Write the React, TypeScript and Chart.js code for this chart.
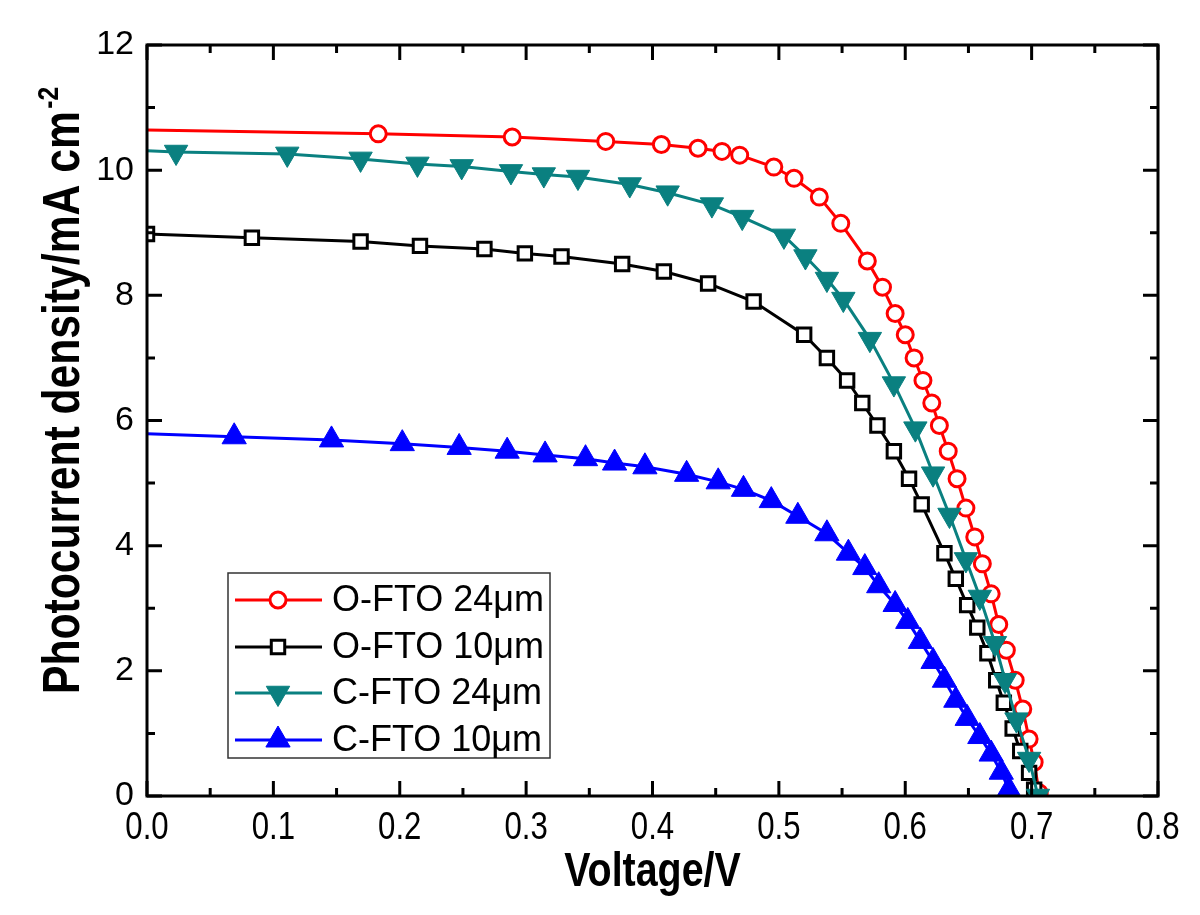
import React, { useEffect, useRef } from 'react';
import { Chart, registerables } from 'chart.js';
import { drawPoint } from 'chart.js/helpers';

Chart.register(...registerables);

// ---- data (voltage V, photocurrent density mA cm^-2) ----
const RED_V = [0, 0.183, 0.289, 0.363, 0.407, 0.436, 0.455, 0.469, 0.496, 0.512, 0.532, 0.549, 0.570, 0.582, 0.592, 0.600, 0.607, 0.614, 0.621, 0.627, 0.634, 0.641, 0.648, 0.655, 0.661, 0.668, 0.674, 0.680, 0.687, 0.693, 0.698, 0.702, 0.706];
const RED_J = [10.64, 10.58, 10.53, 10.46, 10.41, 10.35, 10.30, 10.24, 10.05, 9.87, 9.57, 9.15, 8.55, 8.13, 7.71, 7.37, 7.00, 6.64, 6.28, 5.92, 5.51, 5.07, 4.60, 4.14, 3.71, 3.23, 2.74, 2.33, 1.85, 1.39, 0.91, 0.54, 0.05];

const BLACK_V = [0, 0.083, 0.169, 0.216, 0.267, 0.299, 0.328, 0.376, 0.409, 0.444, 0.480, 0.520, 0.538, 0.554, 0.566, 0.578, 0.591, 0.603, 0.613, 0.631, 0.640, 0.649, 0.657, 0.665, 0.672, 0.678, 0.685, 0.691, 0.698, 0.702];
const BLACK_J = [8.98, 8.92, 8.86, 8.79, 8.74, 8.67, 8.62, 8.50, 8.38, 8.19, 7.90, 7.37, 7.00, 6.64, 6.28, 5.92, 5.51, 5.07, 4.66, 3.88, 3.47, 3.05, 2.69, 2.28, 1.85, 1.49, 1.08, 0.72, 0.37, 0.10];

const TEAL_V = [0, 0.023, 0.111, 0.169, 0.214, 0.249, 0.288, 0.314, 0.341, 0.382, 0.412, 0.447, 0.471, 0.504, 0.521, 0.538, 0.551, 0.572, 0.591, 0.608, 0.622, 0.635, 0.648, 0.659, 0.671, 0.679, 0.688, 0.698, 0.705];
const TEAL_J = [10.31, 10.29, 10.26, 10.18, 10.10, 10.06, 9.98, 9.93, 9.89, 9.77, 9.64, 9.45, 9.25, 8.95, 8.62, 8.26, 7.94, 7.30, 6.59, 5.87, 5.15, 4.49, 3.78, 3.18, 2.44, 1.85, 1.22, 0.59, 0.0];

const BLUE_V = [0, 0.069, 0.146, 0.202, 0.247, 0.285, 0.315, 0.347, 0.370, 0.394, 0.427, 0.452, 0.472, 0.494, 0.515, 0.538, 0.555, 0.568, 0.579, 0.592, 0.602, 0.612, 0.622, 0.631, 0.640, 0.649, 0.659, 0.668, 0.676, 0.682];
const BLUE_J = [5.79, 5.74, 5.69, 5.63, 5.57, 5.51, 5.45, 5.39, 5.32, 5.26, 5.14, 5.02, 4.90, 4.72, 4.47, 4.19, 3.88, 3.65, 3.36, 3.06, 2.79, 2.47, 2.15, 1.85, 1.53, 1.24, 0.95, 0.67, 0.38, 0.10];

const SERIES_LABELS = ['O-FTO 24μm', 'O-FTO 10μm', 'C-FTO 24μm', 'C-FTO 10μm'];

const X_MAJOR = [0, 0.1, 0.2, 0.3, 0.4, 0.5, 0.6, 0.7, 0.8];
const X_MINOR = [0.05, 0.15, 0.25, 0.35, 0.45, 0.55, 0.65, 0.75];
const Y_MAJOR = [0, 2, 4, 6, 8, 10, 12];
const Y_MINOR = [1, 3, 5, 7, 9, 11];

const X_TITLE = 'Voltage/V';
const Y_TITLE = 'Photocurrent density/mA cm';
const Y_TITLE_SUP = '-2';

const FONT = '"Liberation Sans", Arial, sans-serif';
const NARROW_SCALE = 0.82;

const zip = (v: number[], j: number[]) => v.map((x, i) => ({ x, y: j[i] }));

// draws text horizontally condensed (Arial Narrow look)
const narrowText = (ctx: any, text: string, x: number, y: number, align: 'left' | 'center') => {
  ctx.save();
  ctx.translate(x, y);
  ctx.scale(NARROW_SCALE, 1);
  ctx.textAlign = align;
  ctx.fillText(text, 0, 0);
  ctx.restore();
};

const framePlugin = {
  id: 'frameTicks',
  afterDatasetsDraw(chart: any) {
    const { ctx, chartArea, scales } = chart;
    const { left, right, top, bottom } = chartArea;
    const xs = scales.x;
    const ys = scales.y;
    ctx.save();
    ctx.strokeStyle = '#000';
    ctx.lineWidth = 3;
    ctx.lineJoin = 'miter';
    ctx.strokeRect(left, top, right - left, bottom - top);
    const tick = (len: number, vals: number[], horiz: boolean) => {
      ctx.beginPath();
      for (const v of vals) {
        if (horiz) {
          const px = xs.getPixelForValue(v);
          ctx.moveTo(px, bottom);
          ctx.lineTo(px, bottom - len);
          ctx.moveTo(px, top);
          ctx.lineTo(px, top + len);
        } else {
          const py = ys.getPixelForValue(v);
          ctx.moveTo(left, py);
          ctx.lineTo(left + len, py);
          ctx.moveTo(right, py);
          ctx.lineTo(right - len, py);
        }
      }
      ctx.stroke();
    };
    tick(15, X_MAJOR, true);
    tick(8, X_MINOR, true);
    tick(15, Y_MAJOR, false);
    tick(8, Y_MINOR, false);

    // x tick labels (condensed)
    ctx.fillStyle = '#000';
    ctx.font = `38px ${FONT}`;
    ctx.textBaseline = 'alphabetic';
    for (const v of X_MAJOR) {
      narrowText(ctx, v.toFixed(1), xs.getPixelForValue(v), bottom + 43, 'center');
    }
    ctx.restore();
  },
  afterDraw(chart: any) {
    const { ctx, chartArea } = chart;
    ctx.save();
    ctx.fillStyle = '#000';
    ctx.textBaseline = 'alphabetic';
    // x title
    ctx.font = `bold 48px ${FONT}`;
    narrowText(ctx, X_TITLE, (chartArea.left + chartArea.right) / 2, 886, 'center');

    // y title
    ctx.save();
    ctx.translate(79, 694);
    ctx.rotate(-Math.PI / 2);
    ctx.scale(NARROW_SCALE, 1);
    ctx.textAlign = 'left';
    ctx.font = `bold 52px ${FONT}`;
    ctx.fillText(Y_TITLE, 0, 0);
    const w = ctx.measureText(Y_TITLE).width;
    ctx.font = `bold 30px ${FONT}`;
    ctx.fillText(Y_TITLE_SUP, w + 3, -21);
    ctx.restore();

    // legend
    const bx = 228, by = 573, bw = 322, bh = 185;
    ctx.fillStyle = '#fff';
    ctx.fillRect(bx, by, bw, bh);
    ctx.strokeStyle = '#333';
    ctx.lineWidth = 1.5;
    ctx.strokeRect(bx, by, bw, bh);
    const rows = [600, 647, 693, 740];
    chart.data.datasets.forEach((ds: any, i: number) => {
      const y = rows[i];
      ctx.strokeStyle = ds.borderColor;
      ctx.lineWidth = ds.borderWidth;
      ctx.beginPath();
      ctx.moveTo(235, y);
      ctx.lineTo(322, y);
      ctx.stroke();
      const r = Array.isArray(ds.pointRadius) ? ds.pointRadius[ds.pointRadius.length - 1] : ds.pointRadius;
      ctx.fillStyle = ds.pointBackgroundColor;
      ctx.strokeStyle = ds.pointBorderColor;
      ctx.lineWidth = ds.pointBorderWidth;
      drawPoint(ctx, { pointStyle: ds.pointStyle, rotation: ds.pointRotation || 0, radius: r, borderWidth: ds.pointBorderWidth } as any, 278, y);
      ctx.fillStyle = '#000';
      ctx.font = `36px ${FONT}`;
      ctx.textAlign = 'left';
      ctx.textBaseline = 'middle';
      ctx.fillText(ds.label, 332, y + 1);
    });
    ctx.restore();
  },
};

export default function App() {
  const ref = useRef<HTMLCanvasElement>(null);
  useEffect(() => {
    document.body.style.margin = '0';
    const canvas = ref.current!;
    const chart = new Chart(canvas, {
      type: 'line',
      data: {
        datasets: [
          {
            label: SERIES_LABELS[0],
            data: zip(RED_V, RED_J),
            borderColor: '#ff0000',
            borderWidth: 3,
            pointStyle: 'circle',
            pointRadius: RED_V.map((_, i) => (i === 0 ? 0 : 8)),
            pointBorderWidth: 3,
            pointBackgroundColor: '#ffffff',
            pointBorderColor: '#ff0000',
            order: 4,
          },
          {
            label: SERIES_LABELS[1],
            data: zip(BLACK_V, BLACK_J),
            borderColor: '#000000',
            borderWidth: 3,
            pointStyle: 'rect',
            pointRadius: 9.5,
            pointBorderWidth: 3,
            pointBackgroundColor: '#ffffff',
            pointBorderColor: '#000000',
            order: 3,
          },
          {
            label: SERIES_LABELS[2],
            data: zip(TEAL_V, TEAL_J),
            borderColor: '#0a8080',
            borderWidth: 3,
            pointStyle: 'triangle',
            pointRotation: 180,
            pointRadius: TEAL_V.map((_, i) => (i === 0 ? 0 : 13.5)),
            pointBorderWidth: 1,
            pointBackgroundColor: '#0a8080',
            pointBorderColor: '#0a8080',
            order: 2,
          },
          {
            label: SERIES_LABELS[3],
            data: zip(BLUE_V, BLUE_J),
            borderColor: '#0000ff',
            borderWidth: 3,
            pointStyle: 'triangle',
            pointRadius: BLUE_V.map((_, i) => (i === 0 ? 0 : 14)),
            pointBorderWidth: 1,
            pointBackgroundColor: '#0000ff',
            pointBorderColor: '#0000ff',
            order: 1,
          },
        ] as any,
      },
      options: {
        responsive: false,
        animation: false,
        events: [],
        layout: { padding: { left: 0, right: 42, top: 45, bottom: 0 } },
        plugins: { legend: { display: false }, tooltip: { enabled: false } },
        elements: { line: { tension: 0 } },
        scales: {
          x: {
            type: 'linear',
            min: 0,
            max: 0.8,
            afterBuildTicks: (s: any) => {
              s.ticks = X_MAJOR.map((value) => ({ value }));
            },
            afterFit: (s: any) => {
              s.height = 119;
            },
            grid: { display: false, drawTicks: false },
            border: { display: false },
            ticks: { display: false },
          },
          y: {
            type: 'linear',
            min: 0,
            max: 12,
            afterBuildTicks: (s: any) => {
              s.ticks = Y_MAJOR.map((value) => ({ value }));
            },
            afterFit: (s: any) => {
              s.width = 147;
            },
            grid: { display: false, drawTicks: false },
            border: { display: false },
            ticks: {
              color: '#000',
              padding: 13,
              autoSkip: false,
              font: { family: FONT, size: 34 },
              callback: (v: any) => String(v),
            },
          },
        },
      },
      plugins: [framePlugin],
    });
    return () => chart.destroy();
  }, []);
  return (
    <div style={{ position: 'fixed', left: 0, top: 0, width: 1200, height: 915, background: '#fff' }}>
      <canvas ref={ref} width={1200} height={915} style={{ width: 1200, height: 915, display: 'block' }} />
    </div>
  );
}
